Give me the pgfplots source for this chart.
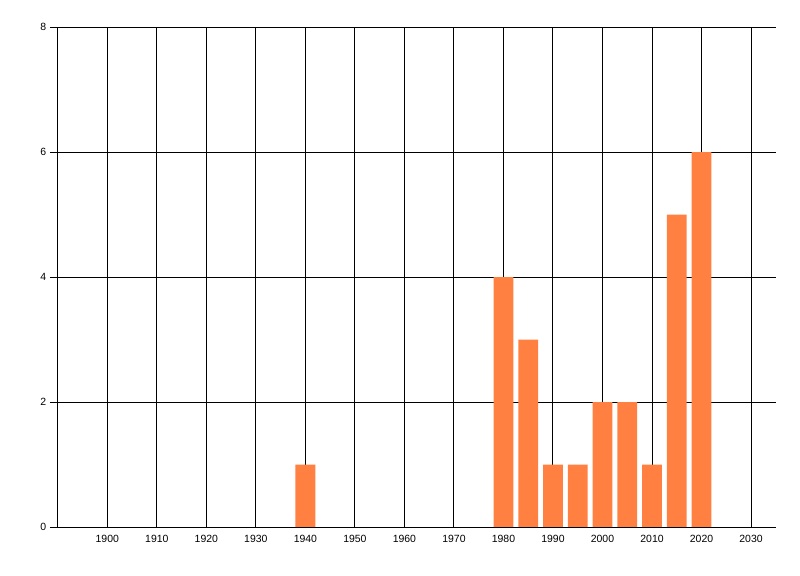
\documentclass[border=0pt]{standalone}
\usepackage{fontspec}
\setmainfont{Liberation Sans}
\usepackage{pgfplots}
\pgfplotsset{compat=1.18}
\definecolor{barorange}{RGB}{255,128,64}

\begin{document}
\begin{tikzpicture}
    % the page: 800 x 576 px, with the axis box 718 x 500 px inside it
    \path[use as bounding box] (-57.8bp,-49bp) rectangle (742.2bp,527bp);
    \begin{axis}[
        scale only axis,
        width  = 718bp,
        height = 500bp,
        xmin = 1890, xmax = 2035,
        ymin = 0, ymax = 8,
        xtick = {1900,1910,...,2030},
        ytick = {0,2,4,6,8},
        axis lines* = left,
        axis line style = {line width=1bp, black},
        grid = major,
        major grid style = {line width=1bp, black, solid},
        tick align = outside,
        major tick length = 8bp,
        tick style = {line width=1bp, black},
        x tick style = {draw=none},
        ticklabel style = {font=\fontsize{10.5}{12}\selectfont},
        x tick label style = {yshift=3bp},
        /pgf/number format/1000 sep = {},
        /pgf/number format/assume math mode = true,
        ybar,
        bar width = 4,
    ]
        \addplot[fill=barorange, draw=none]
        coordinates {(1940,1) (1980,4) (1985,3) (1990,1) (1995,1)
                     (2000,2) (2005,2) (2010,1) (2015,5) (2020,6)};
    \end{axis}
\end{tikzpicture}
\end{document}
